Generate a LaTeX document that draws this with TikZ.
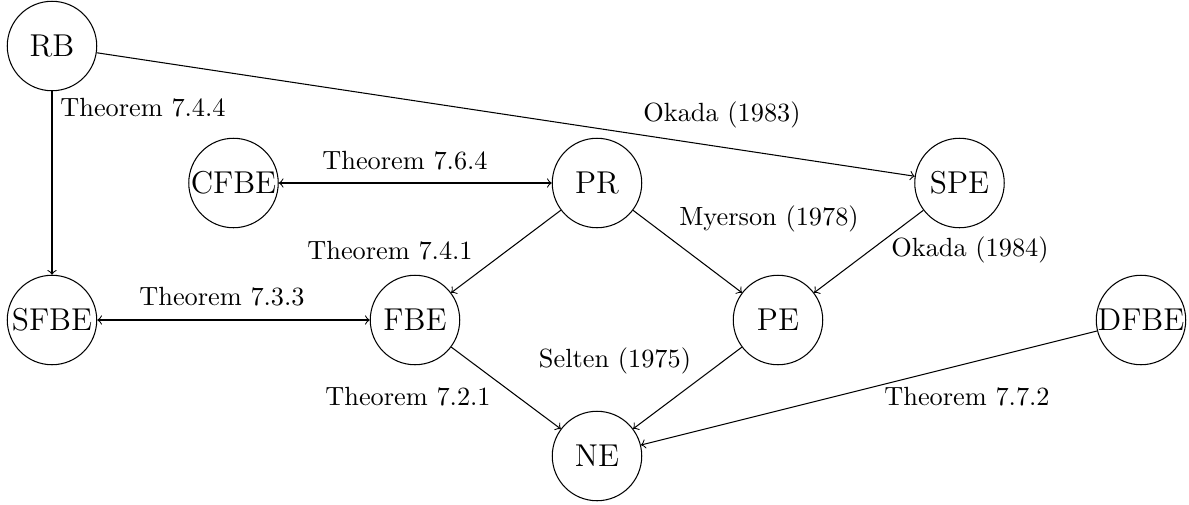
\documentclass[tikz,border=0pt]{standalone}
\begin{document}
\begin{tikzpicture}[x=0.38pt,y=-0.38pt,
  state/.style={circle,draw,inner sep=0pt,minimum size=34pt,font=\large},
  lbl/.style={inner sep=0pt},
  arr/.style={->},
  darr/.style={<->}]
\useasboundingbox (0,0) rectangle (1189,504);
% nodes
\node[state] (RB)   at (52,46)    {RB};
\node[state] (CFBE) at (233.5,183) {CFBE};
\node[state] (PR)   at (597,183)  {PR};
\node[state] (SPE)  at (959.5,183) {SPE};
\node[state] (SFBE) at (52,320)   {SFBE};
\node[state] (FBE)  at (415,320)  {FBE};
\node[state] (PE)   at (778,320)  {PE};
\node[state] (DFBE) at (1141,320) {DFBE};
\node[state] (NE)   at (597,456)  {NE};
% connectors
\draw[arr]  (RB) -- (SFBE);
\draw[arr]  (RB) -- (SPE);
\draw[darr] (CFBE) -- (PR);
\draw[darr] (SFBE) -- (FBE);
\draw[arr]  (PR) -- (FBE);
\draw[arr]  (PR) -- (PE);
\draw[arr]  (SPE) -- (PE);
\draw[arr]  (FBE) -- (NE);
\draw[arr]  (PE) -- (NE);
\draw[arr]  (DFBE) -- (NE);
% labels
\node[lbl] (l744) at (143,108) {Theorem 7.4.4};
\node[lbl] (lok83) at (722,115) {Okada (1983)};
\node[lbl] (l764) at (405,161) {Theorem 7.6.4};
\node[lbl] (lmy) at (769,219) {Myerson (1978)};
\node[lbl] (l741) at (390,251) {Theorem 7.4.1};
\node[lbl] (lok84) at (970,250) {Okada (1984)};
\node[lbl] (l733) at (222,297) {Theorem 7.3.3};
\node[lbl] (lsel) at (615,361) {Selten (1975)};
\node[lbl] (l721) at (408,397) {Theorem 7.2.1};
\node[lbl] (l772) at (967,397) {Theorem 7.7.2};
\end{tikzpicture}
\end{document}
